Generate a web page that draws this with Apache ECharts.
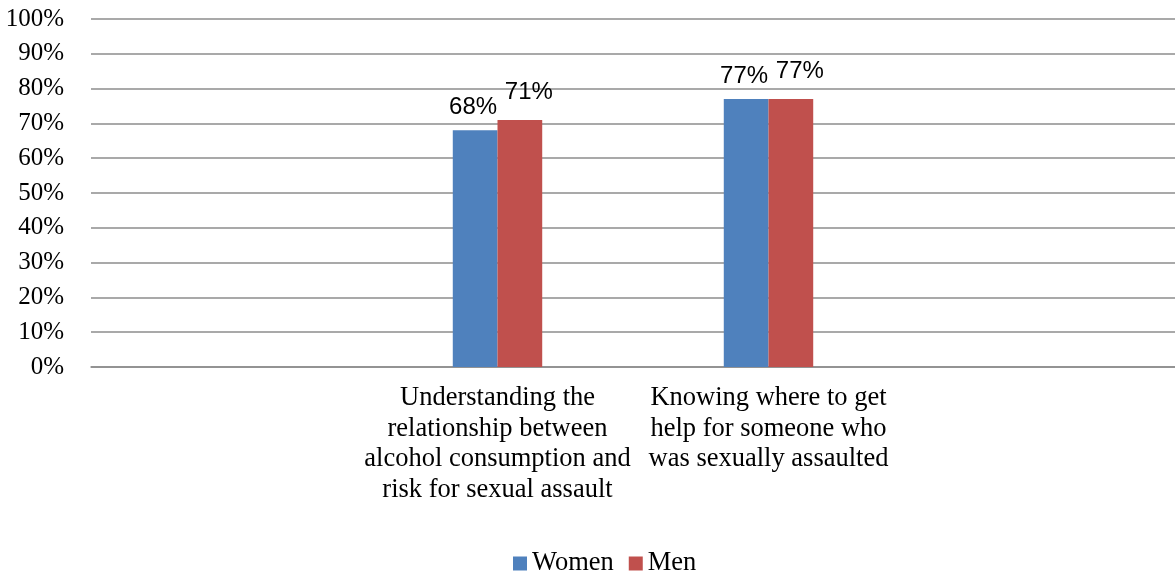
<!DOCTYPE html>
<html>
<head>
<meta charset="utf-8">
<script src="https://cdn.jsdelivr.net/npm/echarts@6/dist/echarts.min.js"></script>
<style>
  html, body { margin: 0; padding: 0; background: #fff; }
  #main { width: 1175px; height: 576px; }
</style>
</head>
<body>
<div id="main"></div>
<script>
// empty slots at both ends, as in the original sheet
const categories = [
  '',
  'Understanding the\nrelationship between\nalcohol consumption and\nrisk for sexual assault',
  'Knowing where to get\nhelp for someone who\nwas sexually assaulted',
  ''
];
const women = [null, 68, 77, null];
const men = [null, 71, 77, null];
const yTicks = [0, 10, 20, 30, 40, 50, 60, 70, 80, 90, 100];

const serif = '"Liberation Serif", "Times New Roman", serif';
const sans = '"Liberation Sans", Arial, sans-serif';
const gridGray = '#8c8c8c';

const labelStyle = (offset) => ({
  show: true,
  position: 'top',
  distance: 11,
  offset: offset,
  formatter: (p) => p.value + '%',
  fontFamily: sans,
  fontSize: 24,
  color: '#000'
});

const chart = echarts.init(document.getElementById('main'), null, { renderer: 'canvas' });

chart.setOption({
  animation: false,
  grid: { left: 91, right: -2, top: 19, bottom: 209, containLabel: false },
  legend: {
    data: ['Women', 'Men'],
    left: 508,
    top: 545,
    icon: 'rect',
    itemWidth: 14,
    itemHeight: 14,
    itemGap: 15,
    textStyle: { fontFamily: serif, fontSize: 26.5, color: '#000' }
  },
  xAxis: {
    type: 'category',
    data: categories,
    axisTick: { show: false },
    axisLine: { lineStyle: { color: gridGray, width: 1.5 } },
    axisLabel: {
      interval: 0,
      margin: 16,
      fontFamily: serif,
      fontSize: 26.5,
      lineHeight: 30.5,
      color: '#000',
      align: 'center'
    }
  },
  yAxis: {
    type: 'value',
    min: yTicks[0],
    max: yTicks[yTicks.length - 1],
    interval: 10,
    axisLine: { show: false },
    axisTick: { show: false },
    splitLine: { lineStyle: { color: gridGray, width: 1.5 } },
    axisLabel: {
      margin: 27,
      fontFamily: serif,
      fontSize: 25,
      color: '#000',
      formatter: '{value}%'
    }
  },
  series: [
    {
      name: 'Women',
      type: 'bar',
      data: women,
      barGap: '0%',
      barCategoryGap: '67%',
      itemStyle: { color: '#4F81BD' },
      label: labelStyle([-2, 0])
    },
    {
      name: 'Men',
      type: 'bar',
      data: men,
      barGap: '0%',
      barCategoryGap: '67%',
      itemStyle: { color: '#C0504D' },
      label: labelStyle([9, -5])
    }
  ]
});
</script>
</body>
</html>
